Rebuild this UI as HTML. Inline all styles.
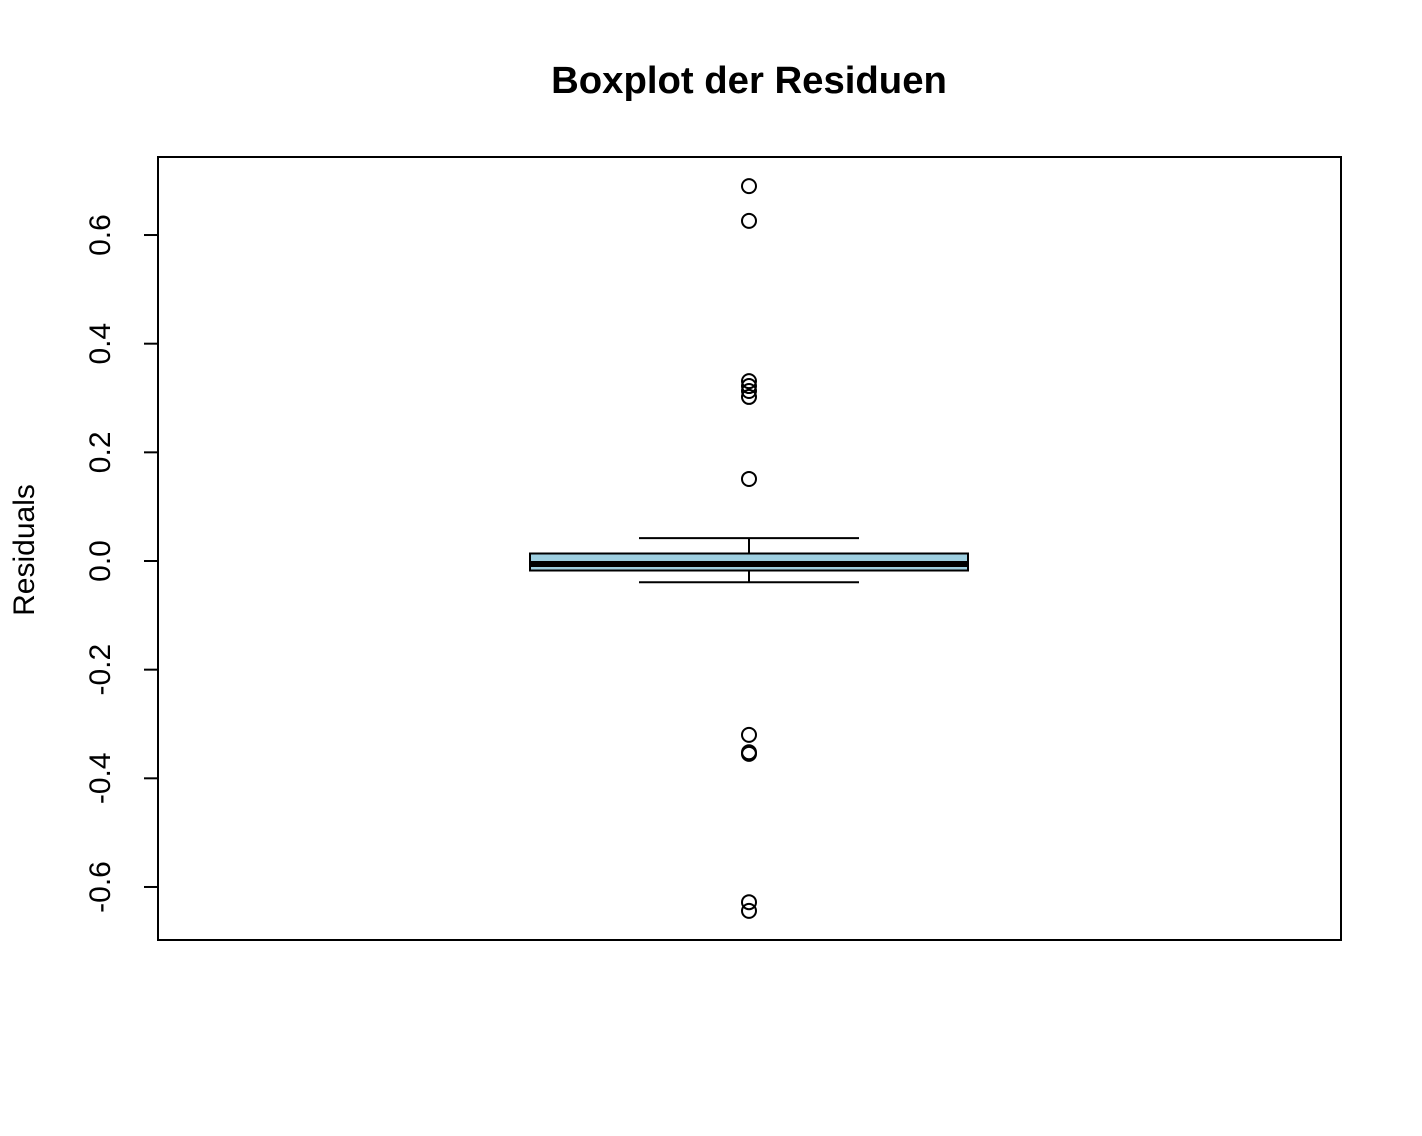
<!DOCTYPE html>
<html><head><meta charset="utf-8"><style>
html,body{margin:0;padding:0;background:#fff;}
svg{display:block;font-family:"Liberation Sans",Arial,sans-serif;}
</style></head><body>
<svg id="chart" width="1422" height="1136">
<text x="749" y="93" text-anchor="middle" font-size="38.3" font-weight="bold">Boxplot der Residuen</text>
<rect x="158" y="157" width="1183" height="783" fill="none" stroke="#000" stroke-width="2"/>
<text transform="translate(34,550) rotate(-90)" text-anchor="middle" font-size="30">Residuals</text>
<g id="yaxis"></g>
<g id="marks"></g>
</svg>
<script>
const yTicks = [-0.6, -0.4, -0.2, 0.0, 0.2, 0.4, 0.6];
const yTickLabels = ["-0.6", "-0.4", "-0.2", "0.0", "0.2", "0.4", "0.6"];
const boxStats = [-0.039, -0.0175, -0.0055, 0.0138, 0.042]; // lower whisker, Q1, median, Q3, upper whisker
const outliers = [0.690, 0.626, 0.331, 0.322, 0.313, 0.302, 0.151, -0.320, -0.352, -0.355, -0.628, -0.644];

const NS = "http://www.w3.org/2000/svg";
function y(v){ return 561 - v * 543.3; }
function mk(tag, attrs, parent){
  const e = document.createElementNS(NS, tag);
  for (const k in attrs) e.setAttribute(k, attrs[k]);
  parent.appendChild(e); return e;
}
const ya = document.getElementById('yaxis');
const axLine = mk('line', {x1:158, x2:158, y1:y(yTicks[0]), y2:y(yTicks[yTicks.length-1]), stroke:'#000', 'stroke-width':2}, ya);


yTicks.forEach((t, i) => {
  const tk = mk('line', {x1:144, x2:158, y1:y(t), y2:y(t), stroke:'#000', 'stroke-width':2}, ya);
  
  
  const tx = mk('text', {transform:`translate(110,${y(t)}) rotate(-90)`, 'text-anchor':'middle', 'font-size':'30'}, ya);
  tx.textContent = yTickLabels[i];
  
  
});
const g = document.getElementById('marks');
const cx = 749, bx1 = 530, bx2 = 968, wx1 = 639, wx2 = 859;
const [lw, q1, med, q3, uw] = boxStats;
const w1 = mk('line', {x1:cx, x2:cx, y1:y(q3), y2:y(uw), stroke:'#000', 'stroke-width':2}, g);


const w2 = mk('line', {x1:cx, x2:cx, y1:y(q1), y2:y(lw), stroke:'#000', 'stroke-width':2}, g);


const c1 = mk('line', {x1:wx1, x2:wx2, y1:y(uw), y2:y(uw), stroke:'#000', 'stroke-width':2}, g);


const c2 = mk('line', {x1:wx1, x2:wx2, y1:y(lw), y2:y(lw), stroke:'#000', 'stroke-width':2}, g);


const box = mk('rect', {x:bx1, y:y(q3), width:bx2-bx1, height:y(q1)-y(q3), fill:'#9ecfe0', stroke:'#000', 'stroke-width':2}, g);


const m = mk('line', {x1:bx1, x2:bx2, y1:y(med), y2:y(med), stroke:'#000', 'stroke-width':6}, g);


outliers.forEach(v => {
  const c = mk('circle', {cx:cx, cy:y(v), r:7, fill:'none', stroke:'#000', 'stroke-width':2}, g);
  
  
});
</script>
</body></html>
